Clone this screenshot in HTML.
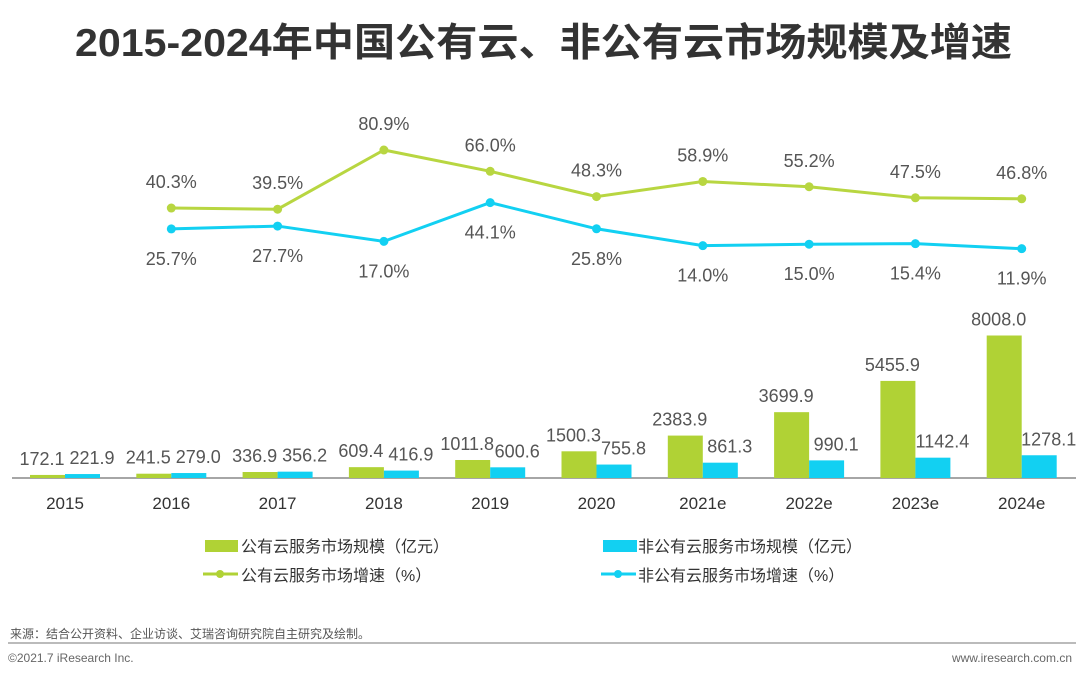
<!DOCTYPE html>
<html><head><meta charset="utf-8"><style>
body{margin:0;background:#fff;width:1080px;height:679px;overflow:hidden;font-family:"Liberation Sans","Noto Sans CJK SC",sans-serif}
svg text{font-family:"Liberation Sans","Noto Sans CJK SC",sans-serif}
</style></head><body>
<svg id="c" width="1080" height="679">
<text x="75" y="56" textLength="937" lengthAdjust="spacingAndGlyphs" font-size="39" font-weight="bold" fill="#333">2015-2024年中国公有云、非公有云市场规模及增速</text>
<line x1="12" y1="478" x2="1076" y2="478" stroke="#888" stroke-width="1.5"/>
<g id="g"></g>
<g>
<rect x="205" y="540" width="33" height="12" fill="#b0d235"/>
<text x="241" y="552" font-size="16" fill="#333">公有云服务市场规模（亿元）</text>
<rect x="603" y="540" width="34" height="12" fill="#12d0f2"/>
<text x="638" y="552" font-size="16" fill="#333">非公有云服务市场规模（亿元）</text>
<line x1="203" y1="574" x2="238" y2="574" stroke="#b0d235" stroke-width="3"/><circle cx="220" cy="574" r="4" fill="#b0d235"/>
<text x="241" y="581" font-size="16" fill="#333">公有云服务市场增速（%）</text>
<line x1="601" y1="574" x2="636" y2="574" stroke="#12d0f2" stroke-width="3"/><circle cx="618" cy="574" r="4" fill="#12d0f2"/>
<text x="638" y="581" font-size="16" fill="#333">非公有云服务市场增速（%）</text>
</g>
<text x="10" y="638" font-size="12" fill="#555">来源：结合公开资料、企业访谈、艾瑞咨询研究院自主研究及绘制。</text>
<line x1="8" y1="643" x2="1076" y2="643" stroke="#777" stroke-width="1"/>
<text x="8" y="662" font-size="12" fill="#666">©2021.7 iResearch Inc.</text>
<text x="1072" y="662" font-size="12" fill="#666" text-anchor="end">www.iresearch.com.cn</text>
</svg>
<script>
const categories=["2015","2016","2017","2018","2019","2020","2021e","2022e","2023e","2024e"];
const publicSize=[172.1,241.5,336.9,609.4,1011.8,1500.3,2383.9,3699.9,5455.9,8008.0];
const nonPublicSize=[221.9,279.0,356.2,416.9,600.6,755.8,861.3,990.1,1142.4,1278.1];
const publicGrowth=[40.3,39.5,80.9,66.0,48.3,58.9,55.2,47.5,46.8];
const nonPublicGrowth=[25.7,27.7,17.0,44.1,25.8,14.0,15.0,15.4,11.9];
const NS="http://www.w3.org/2000/svg",g=document.getElementById('g');
function cx(i){return 65+i*106.3;}
function by(v){return 478-v*142.5/8008;}
function ly(v){return 150+(80.9-v)*1.43;}
function mk(t,a,txt){const e=document.createElementNS(NS,t);for(const k in a)e.setAttribute(k,a[k]);if(txt!==undefined)e.textContent=txt;g.appendChild(e);return e;}
categories.forEach((c,i)=>{
 let e=mk('rect',{x:cx(i)-35,y:by(publicSize[i]),width:35,height:478-by(publicSize[i]),fill:'#b0d235'});
 
 
 e=mk('rect',{x:cx(i),y:by(nonPublicSize[i]),width:35,height:478-by(nonPublicSize[i]),fill:'#12d0f2'});
 
 
 e=mk('text',{x:cx(i)-23,y:by(publicSize[i])-10,'text-anchor':'middle','font-size':18,fill:'#555'},publicSize[i].toFixed(1));
 
 
 e=mk('text',{x:cx(i)+27,y:by(nonPublicSize[i])-10,'text-anchor':'middle','font-size':18,fill:'#555'},nonPublicSize[i].toFixed(1));
 
 
 e=mk('text',{x:cx(i),y:509,'text-anchor':'middle','font-size':17,fill:'#333'},c);
 
 
});
function line(arr,col,name,off){
 const pts=arr.map((v,k)=>[cx(k+1),ly(v)]);
 let e=mk('polyline',{points:pts.map(p=>p.join(',')).join(' '),fill:'none',stroke:col,'stroke-width':3});
 
 
 pts.forEach((p,k)=>{
  e=mk('circle',{cx:p[0],cy:p[1],r:4.5,fill:col});
  
  
  e=mk('text',{x:p[0],y:p[1]+off,'text-anchor':'middle','font-size':18,fill:'#555'},arr[k].toFixed(1)+'%');
  
  
 });
}
line(publicGrowth,'#b8d641','public-growth',-20);
line(nonPublicGrowth,'#12d0f2','nonpublic-growth',36);
</script>
</body></html>
